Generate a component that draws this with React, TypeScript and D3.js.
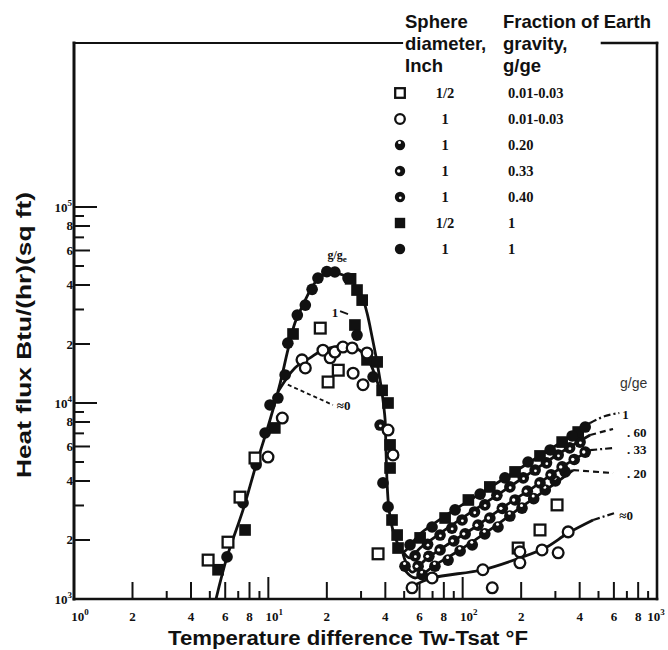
import React from "react";
import * as d3 from "d3";

const WIDTH = 668;
const HEIGHT = 650;
const PLOT = { left: 74, right: 657, top: 43, bottom: 599 };
const X_DOMAIN: [number, number] = [1, 1000];
const Y_DOMAIN: [number, number] = [1000, 686700];

type P = [number, number];

// ---- marker data (temperature difference °F, heat flux Btu/hr ft²) ----
const openSquares: P[] = [
  [4.9, 1580], [6.2, 1950], [7.15, 3310], [8.54, 5240], [18.5, 24100],
  [20.3, 12800], [22.9, 14700], [36.7, 1700], [193, 1820], [250, 2250], [306, 3020],
];
const openCircles: P[] = [
  [9.96, 5300], [11.8, 8380], [14.9, 16600], [15.5, 15100], [19.1, 18600],
  [20.8, 17000], [22.0, 18200], [24.2, 19300], [27.0, 19100], [27.3, 14200],
  [30.7, 12400], [32.2, 18000], [41.3, 7280], [43.8, 5430], [54.9, 1140],
  [69.6, 1280], [127, 1410], [197, 1530], [197, 1740], [256, 1780],
  [310, 1720], [349, 2200], [142, 1140],
];
const dots020: P[] = [
  [61.8, 1330], [72, 1470], [84.1, 1580], [97, 1760], [112, 1890], [130, 2150],
  [152, 2330], [175, 2650], [202, 2910], [232, 3250], [266, 3600], [300, 4000],
  [337, 4450], [50.5, 1470],
];
const dots033: P[] = [
  [59.0, 1470], [67, 1650], [76.5, 1780], [90, 1980], [103, 2150], [120, 2380],
  [138, 2590], [160, 2900], [186, 3200], [215, 3550], [250, 3910], [285, 4300],
  [325, 4720], [375, 5150], [427, 5620],
];
const dots040: P[] = [
  [56.9, 1660], [66, 1900], [76.5, 2120], [88, 2300], [99.3, 2530], [115, 2780],
  [130, 3020], [150, 3380], [175, 3730], [205, 4150], [236, 4550], [270, 4950],
  [310, 5430], [355, 5900], [402, 6320], [37.6, 7720],
];
const filledSquares: P[] = [
  [5.51, 1410], [7.59, 2250], [10.8, 7460], [28.6, 37700], [30.4, 33500],
  [27.9, 25000], [32.2, 16600], [36.3, 16200], [38.5, 11600], [41.3, 10000],
  [42.3, 6110], [42.3, 4660], [43.3, 2530], [46.0, 2120], [46.5, 1820],
  [60.4, 2050], [81.2, 2590], [107, 3200], [138, 3730], [186, 4450],
  [250, 5370], [325, 6320], [393, 7110], [26.5, 43000], [13.4, 22500],
];
const filledCircles: P[] = [
  [6.13, 1640], [7.41, 3090], [8.65, 4830], [9.62, 7030], [10.2, 9770],
  [12.2, 13900], [12.6, 20200], [14.1, 28100], [15.5, 31600], [18.0, 43400],
  [20.0, 46800], [22.0, 46600], [25.7, 43400], [28.6, 22200], [34.6, 13600], [38.9, 3910],
  [41.3, 2950], [53.6, 1890], [69.6, 2330], [91.4, 2850], [123, 3430],
  [165, 4150], [217, 5000], [282, 5760], [366, 6790], [427, 7540],
  [11.2, 10600], [16.8, 38000],
];

// ---- faired curves ----
const curveOne: P[] = [
  [5.38, 1000], [6.13, 1640], [7.41, 2850], [8.65, 4830], [10.2, 8190],
  [11.5, 12600], [12.6, 18600], [13.7, 25600], [14.9, 30900], [16.8, 39100],
  [18.5, 44000], [20.8, 46000], [24.2, 45000], [27.3, 41000], [30.4, 34700],
  [32.2, 28800], [34.2, 21700], [36.3, 16000], [38.5, 11200], [39.9, 8190],
  [40.3, 5750], [41.8, 2850], [44.9, 2070], [49.3, 1740], [54.9, 1930],
  [60.4, 2150], [81.1, 2650], [109, 3200], [156, 4000], [222, 5000],
  [317, 6250], [453, 7910],
];
const curveOneExt: P[] = [[453, 7910], [541, 8590], [640, 8890]];
const curve060: P[] = [
  [49.3, 1740], [53.6, 1620], [60.4, 1820], [81.1, 2250], [109, 2750],
  [156, 3470], [222, 4390], [317, 5560], [453, 6870],
];
const curve060Ext: P[] = [[453, 6870], [594, 7370]];
const curve033: P[] = [
  [49.3, 1700], [54.9, 1370], [64.0, 1580], [86.1, 1930], [116, 2330],
  [165, 2980], [236, 3770], [337, 4830], [453, 5750],
];
const curve033Ext: P[] = [[453, 5750], [594, 5890]];
const curve020: P[] = [
  [50.5, 1400], [56.9, 1280], [72.1, 1490], [97.0, 1780], [138, 2250],
  [197, 2910], [282, 3730], [370, 4550],
];
const curve020Ext: P[] = [[370, 4550], [594, 4390]];
const curveZeroPeak: P[] = [
  [11.2, 11400], [13.7, 15100], [16.4, 17000], [19.1, 18600], [24.2, 19500],
  [28.6, 18900], [32.2, 17000], [35.4, 13900], [38.0, 11000],
];
const curveZeroFilm: P[] = [
  [54.9, 1160], [69.6, 1280], [127, 1410], [197, 1620], [265, 1820],
  [349, 2170], [469, 2530],
];
const curveZeroFilmExt: P[] = [[469, 2530], [608, 2750]];
const zeroLeader: P[] = [[12.6, 12400], [21.5, 9770]];

// ---- axis ticks ----
const xTickValues = [2, 3, 4, 5, 6, 7, 8, 9, 10, 20, 30, 40, 50, 60, 70, 80, 90, 100,
  200, 300, 400, 500, 600, 700, 800, 900];
const xTickLabels: { v: number; t: string; sup?: string }[] = [
  { v: 1, t: "10", sup: "0" }, { v: 2, t: "2" }, { v: 4, t: "4" }, { v: 6, t: "6" },
  { v: 8, t: "8" }, { v: 10, t: "10", sup: "1" }, { v: 20, t: "2" }, { v: 40, t: "4" },
  { v: 60, t: "6" }, { v: 80, t: "8" }, { v: 100, t: "10", sup: "2" }, { v: 200, t: "2" },
  { v: 400, t: "4" }, { v: 600, t: "6" }, { v: 800, t: "8" }, { v: 1000, t: "10", sup: "3" },
];
const yTickValues = [2000, 3000, 4000, 5000, 6000, 7000, 8000, 9000, 10000,
  20000, 30000, 40000, 50000, 60000, 70000, 80000, 90000, 100000];
const yTickLabels: { v: number; t: string; sup?: string }[] = [
  { v: 1000, t: "10", sup: "3" }, { v: 2000, t: "2" }, { v: 4000, t: "4" },
  { v: 6000, t: "6" }, { v: 8000, t: "8" }, { v: 10000, t: "10", sup: "4" },
  { v: 20000, t: "2" }, { v: 40000, t: "4" }, { v: 60000, t: "6" },
  { v: 80000, t: "8" }, { v: 100000, t: "10", sup: "5" },
];

// ---- legend ----
const legendKinds = ["openSquare", "openCircle", "dot20", "dot33", "dot40", "filledSquare", "filledCircle"];
const legendDiameters = ["1/2", "1", "1", "1", "1", "1/2", "1"];
const legendFractions = ["0.01-0.03", "0.01-0.03", "0.20", "0.33", "0.40", "1", "1"];

// ---- curve end labels ----
const curveLabels: { t: string; at: P }[] = [
  { t: "1", at: [662, 8690] },
  { t: ". 60", at: [700, 7110] },
  { t: ". 33", at: [700, 5760] },
  { t: ". 20", at: [700, 4390] },
  { t: "≈0", at: [640, 2680] },
];

const SERIF = "'Liberation Serif', 'DejaVu Serif', serif";
const SANS = "'Liberation Sans', Arial, sans-serif";

function Marker({ kind, cx, cy, s = 1 }: { kind: string; cx: number; cy: number; s?: number }) {
  const r = 5.2 * s;
  switch (kind) {
    case "openSquare":
      return <rect x={cx - 4.8 * s} y={cy - 4.8 * s} width={9.6 * s} height={9.6 * s} fill="#fff" stroke="#111" strokeWidth={2.3} />;
    case "openCircle":
      return <circle cx={cx} cy={cy} r={4.8 * s} fill="#fff" stroke="#111" strokeWidth={2.3} />;
    case "filledSquare":
      return <rect x={cx - r} y={cy - r} width={2 * r} height={2 * r} fill="#111" />;
    case "filledCircle":
      return <circle cx={cx} cy={cy} r={r} fill="#111" />;
    case "dot20":
      return (
        <g>
          <circle cx={cx} cy={cy} r={r} fill="#111" />
          <circle cx={cx - 0.5} cy={cy - 2.4 * s} r={1.5} fill="#fff" />
        </g>
      );
    case "dot33":
      return (
        <g>
          <circle cx={cx} cy={cy} r={r} fill="#111" />
          <circle cx={cx - 1.3 * s} cy={cy} r={1.7} fill="#fff" />
        </g>
      );
    case "dot40":
      return (
        <g>
          <circle cx={cx} cy={cy} r={r} fill="#111" />
          <circle cx={cx + 0.3} cy={cy + 0.8} r={1.4} fill="#fff" />
        </g>
      );
    default:
      return null;
  }
}

export default function App() {
  const x = d3.scaleLog().domain(X_DOMAIN).range([PLOT.left, PLOT.right]);
  const y = d3.scaleLog().domain(Y_DOMAIN).range([PLOT.bottom, PLOT.top]);
  const line = d3
    .line<P>()
    .x((d) => x(d[0]))
    .y((d) => y(d[1]))
    .curve(d3.curveCatmullRom.alpha(0.5));

  const solid = { fill: "none", stroke: "#111", strokeWidth: 2.8 };
  const dashDot = { ...solid, strokeWidth: 2.2, strokeDasharray: "7 3 2 3" };
  const dashed = { ...solid, strokeWidth: 2.2, strokeDasharray: "6 4" };

  const series: { kind: string; pts: P[] }[] = [
    { kind: "dot20", pts: dots020 },
    { kind: "dot33", pts: dots033 },
    { kind: "dot40", pts: dots040 },
    { kind: "filledSquare", pts: filledSquares },
    { kind: "filledCircle", pts: filledCircles },
    { kind: "openSquare", pts: openSquares },
    { kind: "openCircle", pts: openCircles },
  ];

  const legendRowY = (i: number) => 93 + i * 26;

  return (
    <svg
      width={WIDTH}
      height={HEIGHT}
      style={{ position: "absolute", left: 0, top: 0, background: "#fff" }}
    >
      <rect x={0} y={0} width={WIDTH} height={HEIGHT} fill="#fff" />
      <defs>
        <clipPath id="plotClip">
          <rect x={PLOT.left} y={PLOT.top} width={PLOT.right - PLOT.left} height={PLOT.bottom - PLOT.top} />
        </clipPath>
      </defs>

      {/* frame */}
      <g stroke="#111" strokeLinecap="square">
        <line x1={PLOT.left} y1={PLOT.top} x2={PLOT.left} y2={PLOT.bottom} strokeWidth={3} />
        <line x1={PLOT.left} y1={PLOT.bottom} x2={PLOT.right} y2={PLOT.bottom} strokeWidth={2.6} />
        <line x1={PLOT.right} y1={PLOT.top} x2={PLOT.right} y2={PLOT.bottom} strokeWidth={2.6} />
        <line x1={PLOT.left} y1={PLOT.top} x2={402} y2={PLOT.top} strokeWidth={2.2} />
        <line x1={602} y1={PLOT.top} x2={PLOT.right} y2={PLOT.top} strokeWidth={2.6} />
      </g>

      {/* x ticks */}
      <g stroke="#111" strokeWidth={2}>
        {xTickValues.map((v) => {
          const m = Math.round(v / Math.pow(10, Math.floor(Math.log10(v) + 1e-9)));
          const len = m === 1 ? 22 : m % 2 === 0 ? 17 : 8;
          return <line key={v} x1={x(v)} x2={x(v)} y1={PLOT.bottom} y2={PLOT.bottom - len} />;
        })}
      </g>
      {/* y ticks */}
      <g stroke="#111" strokeWidth={2}>
        {yTickValues.map((v) => {
          const m = Math.round(v / Math.pow(10, Math.floor(Math.log10(v) + 1e-9)));
          const len = m === 1 ? 23 : m % 2 === 0 ? 16 : 10;
          return <line key={v} x1={PLOT.left} x2={PLOT.left + len} y1={y(v)} y2={y(v)} />;
        })}
      </g>

      {/* x tick labels */}
      <g fontFamily={SERIF} fontWeight="bold" fontSize={13} fill="#111">
        {xTickLabels.map((l) => {
          const px = x(l.v);
          if (l.sup) {
            const cx = l.v === 1000 ? px - 1 : px + 6;
            return (
              <text key={l.v} x={cx} y={621} textAnchor="middle">
                {l.t}
                <tspan dy={-6} fontSize={9}>{l.sup}</tspan>
              </text>
            );
          }
          return (
            <text key={l.v} x={px} y={621} textAnchor="middle">
              {l.t}
            </text>
          );
        })}
      </g>
      {/* y tick labels */}
      <g fontFamily={SERIF} fontWeight="bold" fontSize={13} fill="#111">
        {yTickLabels.map((l) => (
          <text key={l.v} x={l.sup ? 72 : 73} y={y(l.v) + 4.5} textAnchor="end">
            {l.t}
            {l.sup ? <tspan dy={-6} fontSize={9}>{l.sup}</tspan> : null}
          </text>
        ))}
      </g>

      {/* curves */}
      <g clipPath="url(#plotClip)">
        <path d={line(curveOne) || ""} {...solid} />
        <path d={line(curve060) || ""} {...solid} />
        <path d={line(curve033) || ""} {...solid} />
        <path d={line(curve020) || ""} {...solid} />
        <path d={line(curveZeroPeak) || ""} {...solid} />
        <path d={line(curveZeroFilm) || ""} {...solid} />
        <path d={line(curveOneExt) || ""} {...dashDot} />
        <path d={line(curve060Ext) || ""} {...dashed} />
        <path d={line(curve033Ext) || ""} {...dashDot} />
        <path d={line(curve020Ext) || ""} {...dashed} />
        <path d={line(curveZeroFilmExt) || ""} {...dashDot} />
        <path d={line(zeroLeader) || ""} fill="none" stroke="#111" strokeWidth={1.8} strokeDasharray="4 3" />
      </g>

      {/* markers */}
      <g>
        {series.map((s) =>
          s.pts.map((p, i) => <Marker key={s.kind + i} kind={s.kind} cx={x(p[0])} cy={y(p[1])} s={1.12} />)
        )}
      </g>

      {/* in-plot annotations */}
      <g fontFamily={SERIF} fontWeight="bold" fill="#111">
        <text x={x(22.6)} y={y(56900) + 4} fontSize={12} textAnchor="middle">
          g/g<tspan dy={3} fontSize={9}>e</tspan>
        </text>
        <text x={x(22.0)} y={y(29100) + 5} fontSize={13} textAnchor="middle">1</text>
        <line x1={x(23.4)} y1={y(29400)} x2={x(25.7)} y2={y(28400)} stroke="#111" strokeWidth={1.8} />
        <text x={x(22.5)} y={y(9770) + 5} fontSize={13}>≈0</text>
        {curveLabels.map((c) => (
          <text key={c.t} x={x(c.at[0])} y={y(c.at[1]) + 4.5} fontSize={13} textAnchor="start">
            {c.t}
          </text>
        ))}
      </g>
      <text x={620} y={388} fontFamily={SANS} fontSize={14} fill="#333">g/ge</text>

      {/* legend */}
      <g fontFamily={SANS} fontWeight="bold" fontSize={18.5} fill="#111">
        <text x={405} y={28}>Sphere</text>
        <text x={405} y={50}>diameter,</text>
        <text x={405} y={72}>Inch</text>
        <text x={503} y={28}>Fraction of Earth</text>
        <text x={503} y={50}>gravity,</text>
        <text x={503} y={72}>g/ge</text>
      </g>
      <g fontFamily={SERIF} fontWeight="bold" fontSize={14.5} fill="#111">
        {legendKinds.map((k, i) => (
          <g key={k}>
            <Marker kind={k} cx={400} cy={legendRowY(i)} s={1} />
            <text x={445} y={legendRowY(i) + 5} textAnchor="middle">{legendDiameters[i]}</text>
            <text x={508} y={legendRowY(i) + 5}>{legendFractions[i]}</text>
          </g>
        ))}
      </g>

      {/* axis titles */}
      <text
        x={348}
        y={645}
        textAnchor="middle"
        fontFamily={SANS}
        fontWeight="bold"
        fontSize={19.5}
        textLength={360}
        lengthAdjust="spacingAndGlyphs"
        fill="#111"
      >
        Temperature difference Tw-Tsat °F
      </text>
      <text
        transform="translate(31,335) rotate(-90)"
        textAnchor="middle"
        fontFamily={SANS}
        fontWeight="bold"
        fontSize={19.5}
        textLength={286}
        lengthAdjust="spacingAndGlyphs"
        fill="#111"
      >
        Heat flux Btu/(hr)(sq ft)
      </text>
    </svg>
  );
}
